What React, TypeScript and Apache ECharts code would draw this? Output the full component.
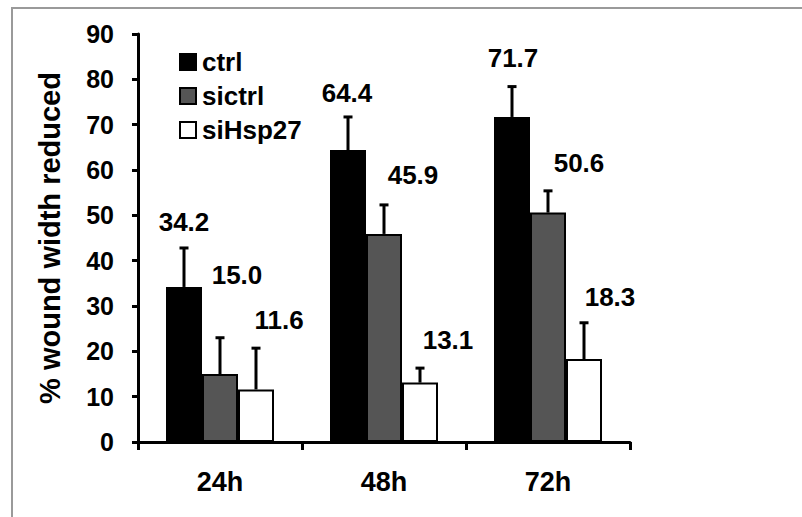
import React, { useEffect, useRef } from "react";
import * as echarts from "echarts";

const categories = ["24h", "48h", "72h"];
const seriesNames = ["ctrl", "sictrl", "siHsp27"];
const ctrlValues = [34.2, 64.4, 71.7];
const sictrlValues = [15.0, 45.9, 50.6];
const siHsp27Values = [11.6, 13.1, 18.3];
const ctrlErrors = [8.6, 7.3, 6.7];
const sictrlErrors = [8.0, 6.4, 4.8];
const siHsp27Errors = [9.1, 3.2, 8.0];
const yTicks = { min: 0, max: 90, interval: 10 };

// layout constants (pixel offsets of the value labels relative to bar centre / error-bar top)
const labelOffsets = [
  [[0, -26], [-1, -24], [1, -29]],
  [[17, -63], [29, -30], [31, -28]],
  [[23, -28], [28, -28], [26, -26]],
];

const FONT = "'Liberation Sans', Arial, sans-serif";
const BAR_W = 36;

export default function App() {
  const ref = useRef<HTMLDivElement>(null);
  useEffect(() => {
    if (!ref.current) return;
    const chart = echarts.init(ref.current, undefined, { renderer: "svg" });
    const values = [ctrlValues, sictrlValues, siHsp27Values];
    const errors = [ctrlErrors, sictrlErrors, siHsp27Errors];
    const fills = ["#000000", "#555555", "#ffffff"];

    const barSeries = seriesNames.map((name, i) => ({
      name,
      type: "bar",
      data: values[i],
      barWidth: BAR_W,
      barGap: "0%",
      itemStyle: { color: fills[i], borderColor: "#000", borderWidth: 2 },
      z: 2,
    }));

    const errSeries = seriesNames.map((name, i) => ({
      name: name + "_err",
      type: "custom",
      z: 5,
      silent: true,
      data: values[i].map((v, j) => [j, v, errors[i][j]]),
      encode: { x: 0, y: 1 },
      renderItem: (params: any, api: any) => {
        const idx = api.value(0);
        const v = api.value(1);
        const e = api.value(2);
        const off = (i - 1) * BAR_W;
        const base = api.coord([idx, v]);
        const top = api.coord([idx, v + e]);
        const x = base[0] + off;
        const lo = labelOffsets[i][idx];
        return {
          type: "group",
          children: [
            {
              type: "line",
              shape: { x1: x, y1: base[1], x2: x, y2: top[1] },
              style: { stroke: "#000", lineWidth: 3 },
            },
            {
              type: "line",
              shape: { x1: x - 4.5, y1: top[1], x2: x + 4.5, y2: top[1] },
              style: { stroke: "#000", lineWidth: 3 },
            },
            {
              type: "text",
              x: x + lo[0],
              y: top[1] + lo[1],
              style: {
                text: v.toFixed(1),
                font: `bold 26px ${FONT}`,
                fill: "#000",
                align: "center",
                verticalAlign: "middle",
              },
            },
          ],
        };
      },
    }));

    chart.setOption({
      animation: false,
      backgroundColor: "#ffffff",
      textStyle: { fontFamily: FONT },
      graphic: [
        {
          type: "rect",
          shape: { x: 12, y: 8, width: 800, height: 520 },
          style: { fill: "none", stroke: "#9a9a9a", lineWidth: 2 },
          silent: true,
          z: 100,
        },
      ],
      legend: {
        data: seriesNames,
        orient: "vertical",
        left: 174,
        top: 44,
        icon: "rect",
        itemWidth: 16,
        itemHeight: 16,
        itemGap: 8,
        textStyle: { fontSize: 26, fontWeight: "bold", color: "#000", fontFamily: FONT, padding: [0, 0, 0, 1] },
      },
      grid: { left: 138, right: 172, top: 34, bottom: 75, containLabel: false },
      xAxis: {
        type: "category",
        data: categories,
        axisLine: { lineStyle: { color: "#000", width: 3 } },
        axisTick: { show: true, length: 8, lineStyle: { color: "#000", width: 3 }, alignWithLabel: false },
        axisLabel: { fontSize: 27, fontWeight: "bold", color: "#000", margin: 26, fontFamily: FONT },
      },
      yAxis: {
        type: "value",
        min: yTicks.min,
        max: yTicks.max,
        interval: yTicks.interval,
        name: "% wound width reduced",
        nameLocation: "middle",
        nameGap: 74,
        nameTextStyle: { fontSize: 29, fontWeight: "bold", color: "#000", fontFamily: FONT },
        axisLine: { show: true, lineStyle: { color: "#000", width: 3 } },
        axisTick: { show: true, length: 6, lineStyle: { color: "#000", width: 3 } },
        axisLabel: { fontSize: 25, fontWeight: "bold", color: "#000", margin: 24, fontFamily: FONT },
        splitLine: { show: false },
      },
      series: [...barSeries, ...errSeries],
    });
    return () => chart.dispose();
  }, []);
  return (
    <div
      ref={ref}
      style={{ position: "fixed", left: 0, top: 0, width: 802, height: 517, background: "#fff" }}
    />
  );
}
